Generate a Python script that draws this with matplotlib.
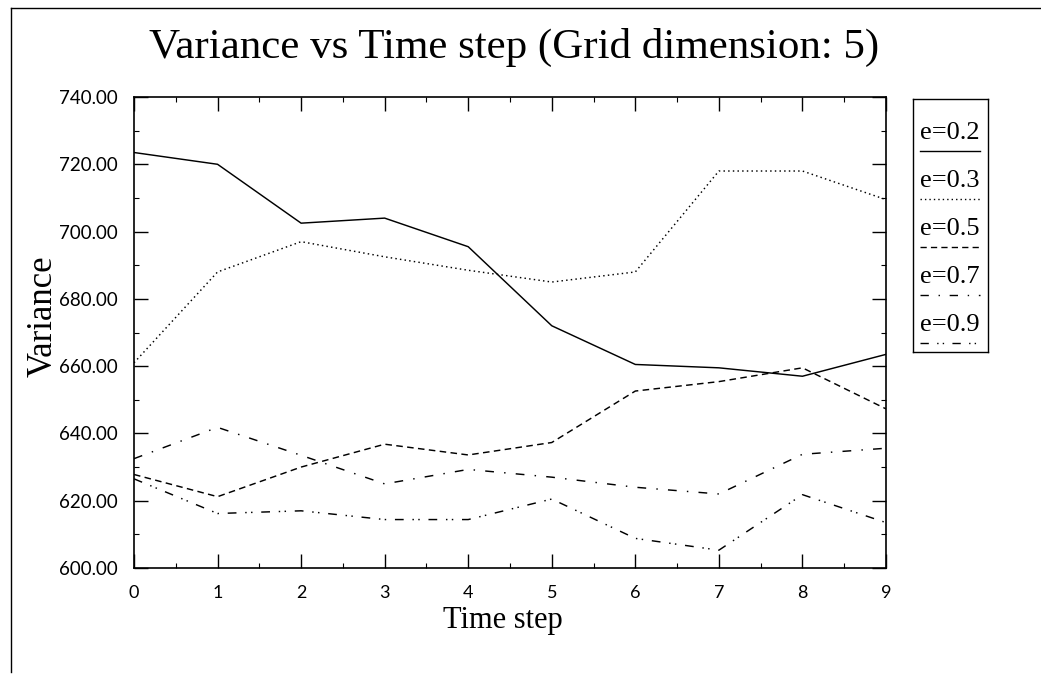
import numpy as np
import matplotlib.pyplot as plt
from matplotlib.lines import Line2D
from matplotlib.ticker import MultipleLocator, FormatStrFormatter

# --- data ---
time_steps = [0, 1, 2, 3, 4, 5, 6, 7, 8, 9]
labels = ["e=0.2", "e=0.3", "e=0.5", "e=0.7", "e=0.9"]
var_e02 = [723.5, 720.0, 702.5, 704.0, 695.5, 672.0, 660.5, 659.5, 657.0, 663.5]
var_e03 = [661.0, 688.0, 697.0, 692.5, 688.5, 685.0, 688.0, 718.0, 718.0, 709.5]
var_e05 = [627.8, 621.2, 630.0, 636.8, 633.6, 637.3, 652.6, 655.4, 659.5, 647.3]
var_e07 = [632.5, 641.8, 633.5, 625.0, 629.3, 627.0, 624.0, 622.0, 633.8, 635.6]
var_e09 = [626.5, 616.2, 617.0, 614.4, 614.4, 620.5, 608.8, 605.3, 621.8, 613.5]
series = [var_e02, var_e03, var_e05, var_e07, var_e09]

# line styles, roughly like the old plotting package
styles = [
    "-",
    (0, (1.0, 2.2)),
    (0, (4.5, 3.0)),
    (0, (6.0, 7.0, 1.0, 7.0)),
    (0, (6.0, 6.0, 1.0, 3.0, 1.0, 6.0)),
]

serif = "Liberation Serif"
sans = "Lato"

fig = plt.figure(figsize=(10.41, 6.74), dpi=100)
ax = fig.add_axes([134 / 1041, 1 - 568 / 674, 752 / 1041, 471 / 674])

for vals, ls in zip(series, styles):
    ax.plot(time_steps, vals, color="black", linestyle=ls, linewidth=1.05)

ax.set_xlim(0, 9)
ax.set_ylim(600, 740)
ax.xaxis.set_major_locator(MultipleLocator(1))
ax.xaxis.set_minor_locator(MultipleLocator(0.5))
ax.yaxis.set_major_locator(MultipleLocator(20))
ax.yaxis.set_minor_locator(MultipleLocator(10))
ax.yaxis.set_major_formatter(FormatStrFormatter("%.2f"))

ax.tick_params(which="both", direction="in", top=True, right=True, color="black")
ax.tick_params(which="major", length=10, width=1.0, pad=12)
ax.tick_params(axis="y", which="major", labelsize=13.5)
ax.tick_params(axis="x", which="major", labelsize=13)
ax.tick_params(which="minor", length=3.5, width=0.8)
for lab in ax.get_xticklabels() + ax.get_yticklabels():
    lab.set_fontfamily(sans)
for sp in ax.spines.values():
    sp.set_linewidth(1.2)

ax.set_xlabel("Time step", family=serif, fontsize=22)
ax.xaxis.set_label_coords(0.49, -0.08)
ax.set_ylabel("Variance", family=serif, fontsize=25)
ax.yaxis.set_label_coords(-0.099, 0.535)
fig.text(0.494, 1 - 47 / 674, "Variance vs Time step (Grid dimension: 5)",
         family=serif, fontsize=31, ha="center", va="center")

# custom legend: label text above a line sample
lax = fig.add_axes([913 / 1041, 1 - 352 / 674, 75 / 1041, 253 / 674])
lax.set_xlim(0, 75)
lax.set_ylim(253, 0)
lax.set_xticks([])
lax.set_yticks([])
for sp in lax.spines.values():
    sp.set_linewidth(1.0)
for i, (lab, ls) in enumerate(zip(labels, styles)):
    y0 = 34 + i * 48
    lax.text(37, y0, lab, family=serif, fontsize=19, ha="center", va="center")
    lax.plot([7, 67], [y0 + 18, y0 + 18], color="black", linestyle=ls, linewidth=1.0)

# outer frame (left and top edges of the scanned page)
fig.add_artist(Line2D([11 / 1041, 11 / 1041], [1 - 672 / 674, 1 - 8 / 674],
                      color="black", linewidth=1.0, transform=fig.transFigure))
fig.add_artist(Line2D([11 / 1041, 1.0], [1 - 8 / 674, 1 - 8 / 674],
                      color="black", linewidth=1.0, transform=fig.transFigure))

fig.savefig("out.png", dpi=100)
